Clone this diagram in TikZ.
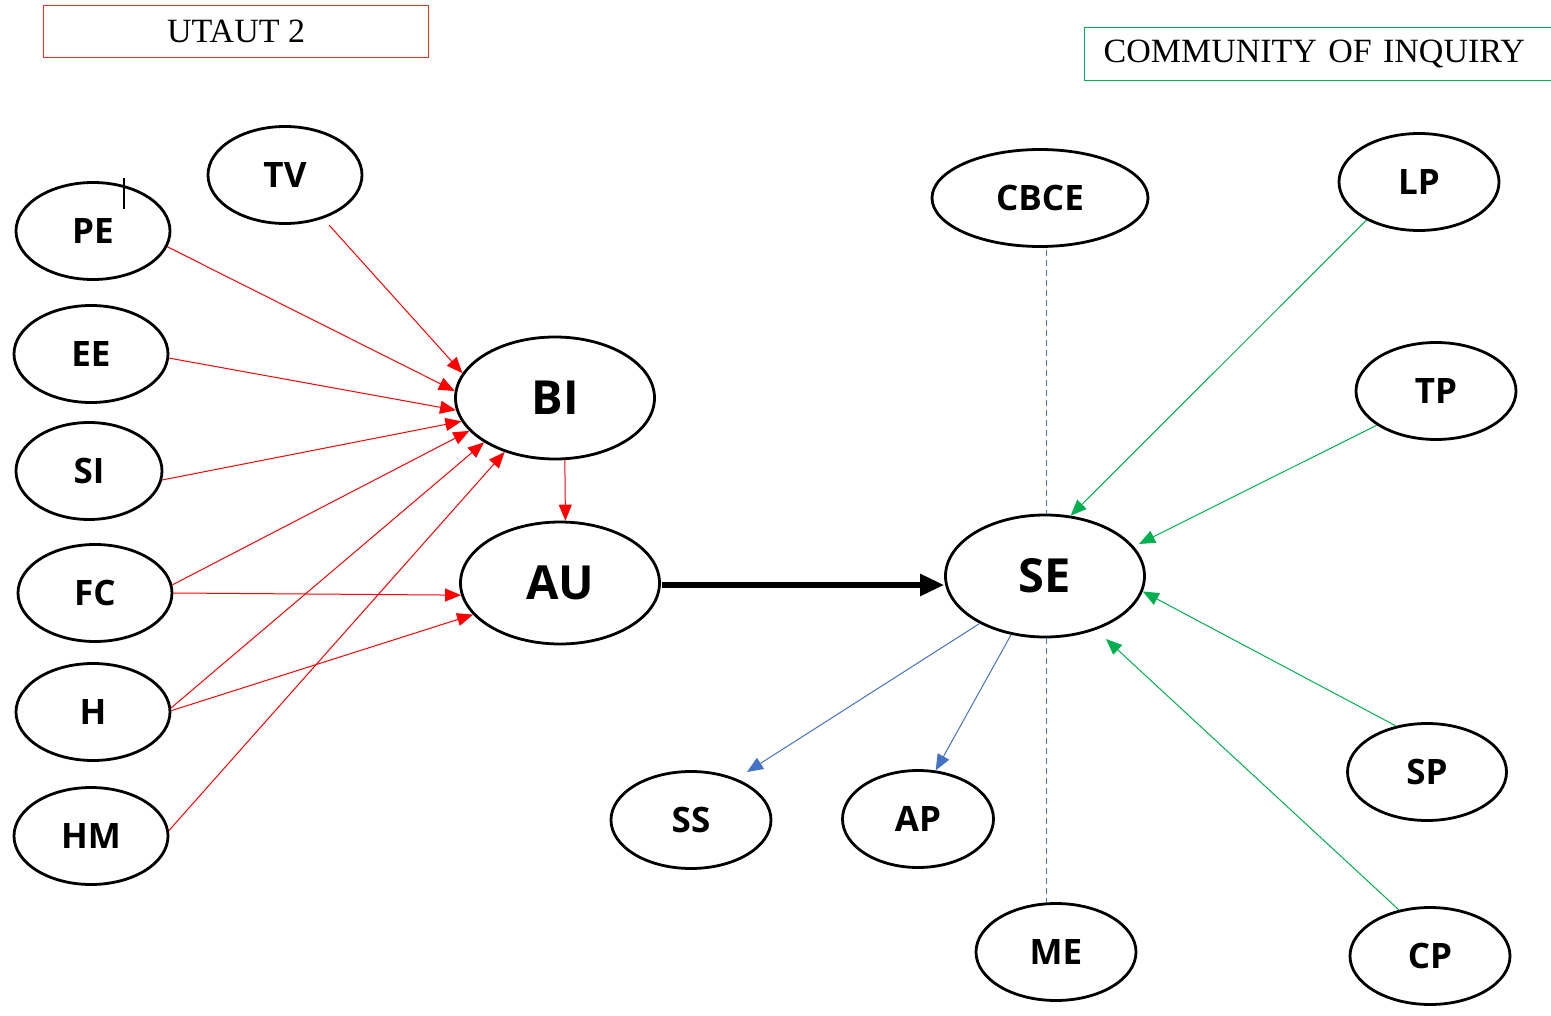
\documentclass[tikz,border=0pt]{standalone}
\usepackage{fontspec}
\setmainfont{Open Sans}
\newfontfamily\titlefont{Liberation Serif}
\usetikzlibrary{shapes.geometric,arrows.meta,calc}

\definecolor{coigreen}{HTML}{00B050}
\definecolor{coiblue}{HTML}{4472C4}

\tikzset{
  construct/.style={ellipse, draw=black, line width=2.8pt, inner sep=0pt,
    font=\bfseries\fontsize{35}{40}\selectfont},
  smallc/.style={construct, minimum width=154pt, minimum height=97pt},
  core/.style={construct, minimum width=199pt, minimum height=122pt,
    font=\bfseries\fontsize{47}{52}\selectfont},
  redarrow/.style={draw=red, line width=1pt, -{Triangle[length=16pt,width=13pt]}},
  greenarrow/.style={draw=coigreen, line width=1pt, -{Triangle[length=16pt,width=13pt]}},
  bluearrow/.style={draw=coiblue, line width=1pt, -{Triangle[length=16pt,width=13pt]}},
  bluedash/.style={draw=coiblue, line width=0.9pt, dash pattern=on 6pt off 4pt},
  mainarrow/.style={draw=black, line width=5.5pt, -{Triangle[length=24pt,width=21pt]}},
  titlebox/.style={draw, line width=1.2pt, inner sep=0pt, anchor=north west,
    font=\titlefont\fontsize{34}{38}\selectfont}
}

\begin{document}
\begin{tikzpicture}[x=1pt,y=-1pt]
  \useasboundingbox (0,0) rectangle (1551,1016);

  % framework titles
  \node[titlebox, draw=red!85, minimum width=385pt, minimum height=52pt] (utaut) at (43,5) {UTAUT 2};
  \node[titlebox, draw=coigreen, minimum width=470pt, minimum height=53pt,
        align=left, text width=450pt] (coi) at (1084,27) {\hspace*{9pt}COMMUNITY OF INQUIRY};

  % UTAUT 2 constructs
  \node[smallc] (TV) at (285,175) {TV};
  \node[smallc] (PE) at (93,231) {PE};
  \node[smallc] (EE) at (91,354) {EE};
  \node[smallc, minimum width=146pt] (SI) at (89,471) {SI};
  \node[smallc] (FC) at (95,593) {FC};
  \node[smallc] (H)  at (93,712) {H};
  \node[smallc] (HM) at (91,836) {HM};
  \node[core] (BI) at (555,398) {BI};
  \node[core] (AU) at (560,583) {AU};

  % Community of Inquiry constructs
  \node[core] (SE) at (1045,576) {SE};
  \node[smallc, minimum width=216pt] (CBCE) at (1040,198) {CBCE};
  \node[smallc, minimum width=160pt] (LP) at (1419,182) {LP};
  \node[smallc, minimum width=160pt] (TP) at (1436,391) {TP};
  \node[smallc, minimum width=159pt] (SP) at (1427,772) {SP};
  \node[smallc, minimum width=160pt] (CP) at (1430,956) {CP};
  \node[smallc, minimum width=160pt] (ME) at (1056,952) {ME};
  \node[smallc, minimum width=160pt] (SS) at (691,820) {SS};
  \node[smallc, minimum width=151pt] (AP) at (918,819) {AP};

  % text cursor mark
  \coordinate (cursortop) at (124,178);
  \coordinate (cursorbot) at (124,209);
  \draw[line width=1.4pt] (cursortop) -- (cursorbot);

  % connector ends lying just off the ellipse borders
  \coordinate (TVout) at ($(TV.center)+(44,50)$);
  \coordinate (TPin)  at ($(SE.center)+(94,-32)$);
  \coordinate (CPin)  at ($(SE.center)+(61,63)$);
  \coordinate (SSin)  at ($(SS.center)+(56,-48)$);

  % UTAUT 2 paths
  \draw[redarrow] (TVout)  -- (BI.165);
  \draw[redarrow] (PE.-12) -- (BI.176);
  \draw[redarrow] (EE.-3)  -- (BI.187);
  \draw[redarrow] (SI.-7)  -- (BI.194.6);
  \draw[redarrow] (FC.6)   -- (BI.201);
  \draw[redarrow] (H.3)    -- (BI.212);
  \draw[redarrow] (HM.4)   -- (BI.227);
  \draw[redarrow] (FC.0)   -- (AU.187.6);
  \draw[redarrow] (H.1)    -- (AU.200);
  \draw[redarrow] (BI.-81) -- (AU.85);

  % link between the frameworks
  \draw[mainarrow] ($(AU.east)+(1,2)$) -- ($(AU.east -| SE.west)+(0,2)$);

  % Community of Inquiry paths
  \draw[greenarrow] (LP.216.7) -- (SE.67);
  \draw[greenarrow] (TP.210) -- (TPin);
  \draw[greenarrow] (SP.124.8) -- (SE.-9);
  \draw[greenarrow] (CP.124.8) -- (CPin);
  \draw[bluearrow] (SE.216.9) -- (SSin);
  \draw[bluearrow] (SE.240) -- (AP.70.6);
  \draw[bluedash] ($(SE.north |- CBCE.south)+(1,2)$) -- ($(SE.north)+(1,0)$);
  \draw[bluedash] ($(SE.south)+(1,0)$) -- ($(SE.south |- ME.north)+(1,0)$);
\end{tikzpicture}
\end{document}
